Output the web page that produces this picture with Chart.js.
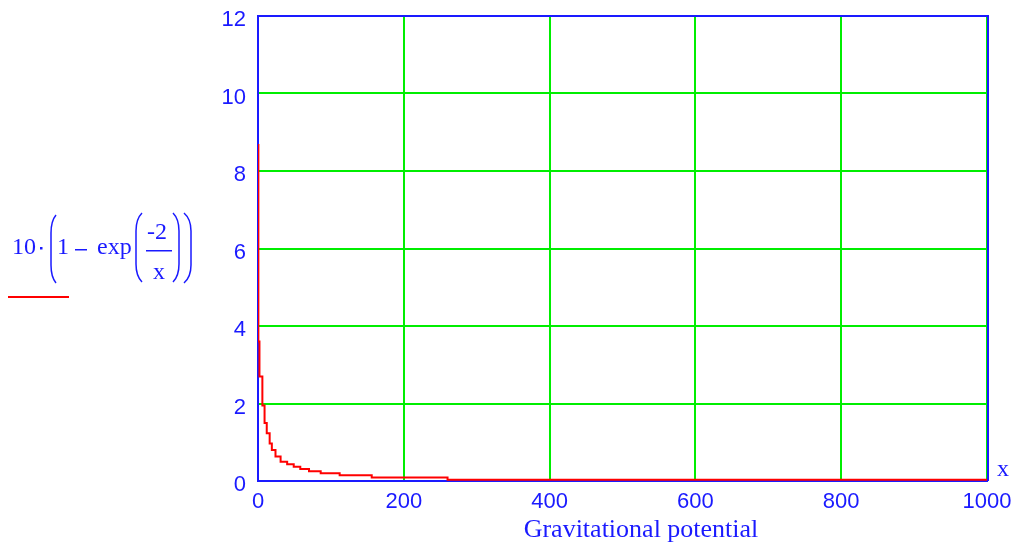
<!DOCTYPE html>
<html>
<head>
<meta charset="utf-8">
<script src="https://cdn.jsdelivr.net/npm/chart.js@4/dist/chart.umd.min.js"></script>
<style>
    html, body { margin: 0; padding: 0; background: #fff; }
    canvas { display: block; }
</style>
</head>
<body>
<canvas id="plot" width="1011" height="548"></canvas>
<script>
// values (start of each flat step of the drawn curve)
var potentialX = [0.5, 2, 6, 9, 12, 16, 19, 24, 31, 40, 49, 58, 70, 86, 112, 156, 260, 772, 1000];
var potentialY = [8.7, 3.6, 2.7, 1.95, 1.5, 1.23, 0.97, 0.8, 0.63, 0.5, 0.43, 0.37, 0.31, 0.25, 0.2, 0.15, 0.09, 0.03, 0.03];
var xTicks = [0, 200, 400, 600, 800, 1000];
var yTicks = [0, 2, 4, 6, 8, 10, 12];

var BLUE = '#1a1aff';
var GREEN = '#00ee00';
var RED = '#ff0000';

var points = potentialX.map(function (x, i) {
    return { x: x, y: potentialY[i] };
});

function paren(ctx, xa, xb, top, bot) {
    // xa = edge at the ends, xb = spine
    ctx.beginPath();
    ctx.moveTo(xa, top);
    ctx.quadraticCurveTo(xb, top + 6, xb, top + 18);
    ctx.lineTo(xb, bot - 18);
    ctx.quadraticCurveTo(xb, bot - 6, xa, bot);
    ctx.stroke();
}

var framePlugin = {
    id: 'frame',
    beforeDatasetsDraw: function (chart) {
        var ctx = chart.ctx;
        var a = chart.chartArea;
        ctx.save();
        ctx.strokeStyle = BLUE;
        ctx.lineWidth = 2;
        ctx.beginPath();
        ctx.moveTo(a.left, a.top);
        ctx.lineTo(a.right + 1, a.top);
        ctx.lineTo(a.right + 1, a.bottom);
        ctx.stroke();
        ctx.restore();
    },
    afterDraw: function (chart) {
        var ctx = chart.ctx;
        ctx.save();
        ctx.fillStyle = BLUE;
        ctx.strokeStyle = BLUE;

        // axis title
        ctx.font = '26px "Liberation Serif"';
        ctx.textAlign = 'center';
        ctx.textBaseline = 'alphabetic';
        ctx.fillText('Gravitational potential', 641, 537);

        // variable name at the end of the x axis
        ctx.font = '24px "Liberation Serif"';
        ctx.fillText('x', 1003, 476);

        // trace label: 10·(1 − exp(-2/x))
        ctx.textAlign = 'left';
        ctx.fillText('10', 12, 254);
        ctx.fillRect(40, 247, 2.5, 2.5);
        ctx.lineWidth = 1.5;
        paren(ctx, 56, 51, 215, 283);
        ctx.fillText('1', 57, 254);
        ctx.fillRect(75, 249, 12, 1.5);
        ctx.fillText('exp', 97, 254);
        paren(ctx, 142, 136, 213, 282);
        ctx.fillText('-2', 147, 239);
        ctx.fillRect(146, 250, 26, 1.5);
        ctx.fillText('x', 153, 279);
        paren(ctx, 173, 179, 213, 282);
        paren(ctx, 184, 191, 213, 283);

        // legend line
        ctx.strokeStyle = RED;
        ctx.lineWidth = 2;
        ctx.beginPath();
        ctx.moveTo(8, 297);
        ctx.lineTo(69, 297);
        ctx.stroke();
        ctx.restore();
    }
};

new Chart(document.getElementById('plot'), {
    type: 'line',
    data: {
        datasets: [{
            data: points,
            borderColor: RED,
            borderWidth: 2,
            pointRadius: 0,
            stepped: 'after',
            fill: false
        }]
    },
    options: {
        responsive: false,
        animation: false,
        layout: { padding: { left: 0, top: 16, right: 24, bottom: 0 } },
        plugins: { legend: { display: false }, tooltip: { enabled: false } },
        scales: {
            x: {
                type: 'linear',
                min: 0,
                max: 1000,
                afterBuildTicks: function (s) {
                    s.ticks = xTicks.map(function (v) { return { value: v }; });
                },
                afterFit: function (s) {
                    s.height = 67;
                    s.paddingLeft = 0;
                    s.paddingRight = 0;
                },
                border: { color: BLUE, width: 2 },
                grid: {
                    drawTicks: false,
                    lineWidth: 2,
                    color: function (c) { return c.tick && c.tick.value === 0 ? 'rgba(0,0,0,0)' : GREEN; }
                },
                ticks: {
                    color: BLUE,
                    padding: 8,
                    maxRotation: 0,
                    font: { family: '"Liberation Sans"', size: 22 },
                    callback: function (v) { return String(v); }
                }
            },
            y: {
                min: 0,
                max: 12,
                afterBuildTicks: function (s) {
                    s.ticks = yTicks.map(function (v) { return { value: v }; });
                },
                afterFit: function (s) {
                    s.width = 258;
                    s.paddingTop = 0;
                    s.paddingBottom = 0;
                },
                border: { color: BLUE, width: 2 },
                grid: {
                    drawTicks: false,
                    lineWidth: 2,
                    color: function (c) { return c.tick && (c.tick.value === 0 || c.tick.value === 12) ? 'rgba(0,0,0,0)' : GREEN; }
                },
                ticks: {
                    color: BLUE,
                    padding: 12,
                    labelOffset: 4,
                    font: { family: '"Liberation Sans"', size: 22 },
                    callback: function (v) { return String(v); }
                }
            }
        }
    },
    plugins: [framePlugin]
});
</script>
</body>
</html>
